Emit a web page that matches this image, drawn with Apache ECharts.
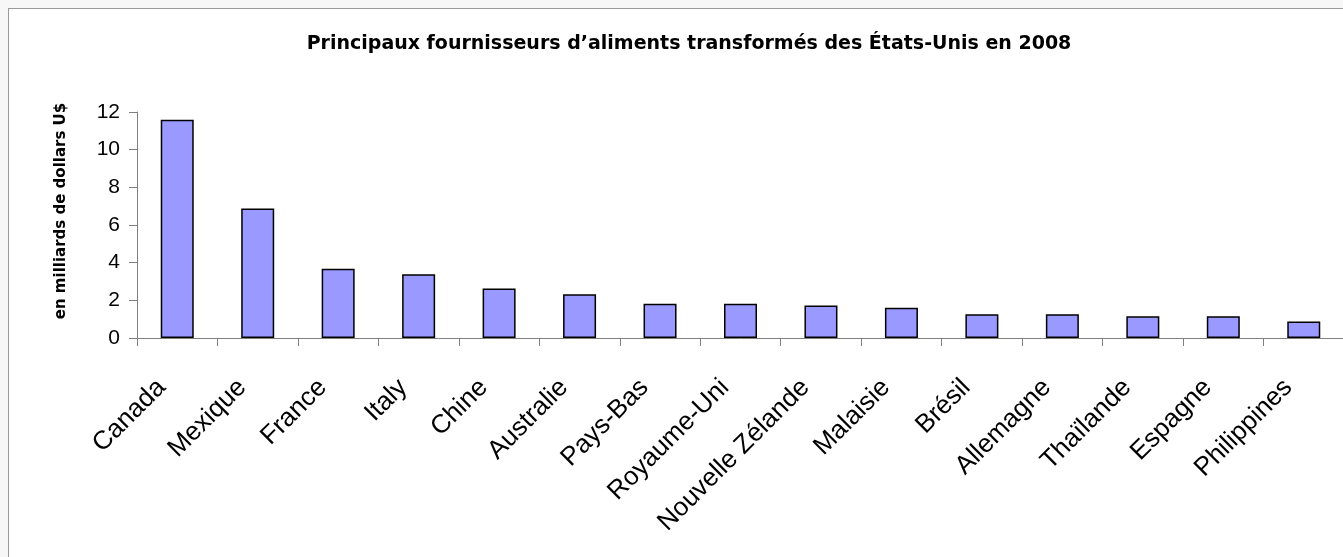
<!DOCTYPE html>
<html>
<head>
<meta charset="utf-8">
<script src="https://cdn.jsdelivr.net/npm/echarts@6/dist/echarts.min.js"></script>
<style>
  html, body { margin: 0; padding: 0; background: #f7f7f7; overflow: hidden; width: 1343px; height: 557px; }
  #frame { position: absolute; left: 8px; top: 8px; width: 1360px; height: 580px; border: 1px solid #999; background: #fff; }
  #chart { width: 1360px; height: 580px; }
</style>
</head>
<body>
<div id="frame"><div id="chart"></div></div>
<script>
// pays fournisseurs
const countries = ['Canada', 'Mexique', 'France', 'Italy', 'Chine', 'Australie', 'Pays-Bas', 'Royaume-Uni',
  'Nouvelle Zélande', 'Malaisie', 'Brésil', 'Allemagne', 'Thaïlande', 'Espagne', 'Philippines']
// en milliards de dollars US
const imports = [11.59, 6.87, 3.68, 3.39, 2.63, 2.32, 1.82, 1.82, 1.72, 1.61, 1.26, 1.26, 1.15, 1.15, 0.87]

const font = "'Liberation Sans', Arial, sans-serif"
const wideBold = "'DejaVu Sans', 'Liberation Sans', sans-serif"

const chart = echarts.init(document.getElementById('chart'))
chart.setOption({
  animation: false,
  title: {
    text: 'Principaux fournisseurs d\u2019aliments transformés des États-Unis en 2008',
    left: 675,
    textAlign: 'center',
    top: 21,
    textStyle: { fontFamily: wideBold, fontSize: 19, fontWeight: 'bold', color: '#000' }
  },
  grid: { left: 128, top: 103, width: 1207, height: 226 },
  xAxis: {
    type: 'category',
    data: countries,
    axisLine: { lineStyle: { color: '#808080', width: 1 } },
    axisTick: { show: true, length: 8, lineStyle: { color: '#808080' } },
    axisLabel: {
      rotate: 45, margin: 30, padding: [0, 22, 0, 0],
      fontFamily: font, fontSize: 26, color: '#000', interval: 0
    }
  },
  yAxis: {
    type: 'value',
    min: 0,
    max: 12,
    interval: 2,
    name: 'en milliards de dollars U$',
    nameLocation: 'middle',
    nameGap: 68,
    nameTextStyle: { fontFamily: wideBold, fontSize: 15, fontWeight: 'bold', color: '#000', padding: [0, 0, 0, 28] },
    axisLine: { show: true, lineStyle: { color: '#808080', width: 1 } },
    axisTick: { show: true, length: 8, lineStyle: { color: '#808080' } },
    splitLine: { show: false },
    axisLabel: { margin: 17, fontFamily: font, fontSize: 21, color: '#000' }
  },
  series: [{
    type: 'bar',
    data: imports,
    barWidth: 33,
    itemStyle: { color: '#9999ff', borderColor: '#000', borderWidth: 1.5 }
  }]
})
</script>
</body>
</html>
